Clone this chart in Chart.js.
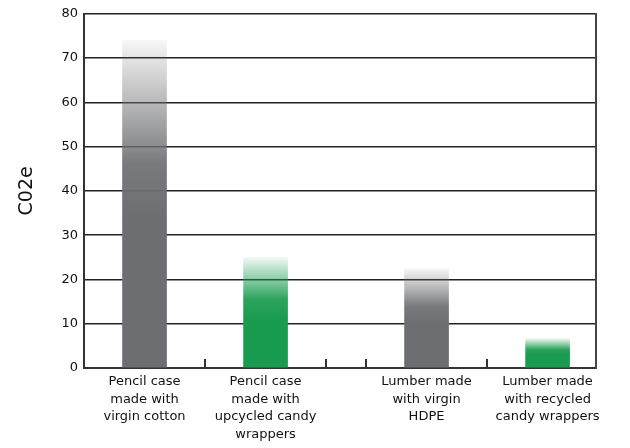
<!DOCTYPE html>
<html>
<head>
<meta charset="utf-8">
<script src="https://cdn.jsdelivr.net/npm/chart.js@4"></script>
<style>
  html, body { margin: 0; padding: 0; background: #fff; }
  #wrap { width: 630px; height: 448px; }
</style>
</head>
<body>
<div id="wrap"><canvas id="co2Chart" width="630" height="448"></canvas></div>
<script>
    // Prepare the data
    const categories = [
      ['Pencil case', 'made with', 'virgin cotton'],
      ['Pencil case', 'made with', 'upcycled candy', 'wrappers'],
      ['Lumber made', 'with virgin', 'HDPE'],
      ['Lumber made', 'with recycled', 'candy wrappers']
    ];
    const positions = [0.5, 1.5, 2.83, 3.83];   // slot centres on the x axis
    const dividers = [1, 2, 2.33, 3.33];        // small tick marks between slots
    const co2e = [74, 25, 22.4, 6.7];
    const kinds = ['virgin', 'recycled', 'virgin', 'recycled'];
    const yTicks = [0, 10, 20, 30, 40, 50, 60, 70, 80];

    const baseColor = { virgin: [109, 110, 113], recycled: [26, 156, 80] };

    // fade each bar from white at the top into its colour
    function barFill(context) {
      const chart = context.chart;
      const y = chart.scales.y;
      if (!chart.chartArea || !y) return 'gray';
      const i = context.dataIndex;
      const c = baseColor[kinds[i]];
      const top = y.getPixelForValue(co2e[i]);
      const bottom = y.getPixelForValue(0);
      const g = chart.ctx.createLinearGradient(0, top, 0, bottom);
      g.addColorStop(0, 'rgba(' + c.join(',') + ',0.06)');
      g.addColorStop(0.38, 'rgba(' + c.join(',') + ',0.92)');
      g.addColorStop(0.55, 'rgba(' + c.join(',') + ',1)');
      g.addColorStop(1, 'rgba(' + c.join(',') + ',1)');
      return g;
    }

    // short inward tick marks on the x axis
    const dividerTicks = {
      id: 'dividerTicks',
      afterDatasetsDraw(chart) {
        const x = chart.scales.x;
        const yBottom = chart.chartArea.bottom;
        const ctx = chart.ctx;
        ctx.save();
        ctx.strokeStyle = '#333';
        ctx.lineWidth = 2;
        dividers.forEach(v => {
          const px = Math.round(x.getPixelForValue(v));
          ctx.beginPath();
          ctx.moveTo(px, yBottom);
          ctx.lineTo(px, yBottom - 9);
          ctx.stroke();
        });
        ctx.restore();
      }
    };

    const font = 'DejaVu Sans, Verdana, sans-serif';

    new Chart(document.getElementById('co2Chart'), {
      type: 'bar',
      data: {
        datasets: [{
          data: positions.map((p, i) => ({ x: p, y: co2e[i] })),
          backgroundColor: barFill,
          borderWidth: 0,
          barThickness: 44
        }]
      },
      options: {
        responsive: false,
        animation: false,
        layout: { padding: { left: 16, right: 34, top: 0, bottom: 0 } },
        plugins: { legend: { display: false }, tooltip: { enabled: false } },
        scales: {
          x: {
            type: 'linear',
            offset: false,
            min: 0,
            max: 4.23,
            afterBuildTicks: s => { s.ticks = positions.map(v => ({ value: v })); },
            afterFit: s => { s.height = 80; },
            grid: { display: false, drawTicks: false, offset: false },
            border: { display: true, color: '#333', width: 2 },
            ticks: {
              autoSkip: false,
              maxRotation: 0,
              padding: 5,
              color: '#111',
              font: { family: font, size: 13, lineHeight: 1.35 },
              callback: v => {
                const i = positions.indexOf(v);
                return i >= 0 ? categories[i] : '';
              }
            }
          },
          y: {
            min: 0,
            max: 80,
            afterBuildTicks: s => { s.ticks = yTicks.map(v => ({ value: v })); },
            afterFit: s => { s.width = 68; },
            grid: { color: '#222', lineWidth: 1.5, drawTicks: false },
            border: { display: true, color: '#333', width: 2 },
            ticks: { padding: 6, color: '#111', font: { family: font, size: 13 } },
            title: {
              display: true,
              text: 'C02e',
              color: '#111',
              padding: { top: 0, bottom: 0 },
              font: { family: font, size: 19 }
            }
          },
          right: {
            position: 'right',
            display: true,
            grid: { display: false, drawTicks: false },
            border: { display: true, color: '#444', width: 2 },
            ticks: { display: false },
            afterFit: s => { s.width = 0; }
          }
        }
      },
      plugins: [dividerTicks]
    });
</script>
</body>
</html>
